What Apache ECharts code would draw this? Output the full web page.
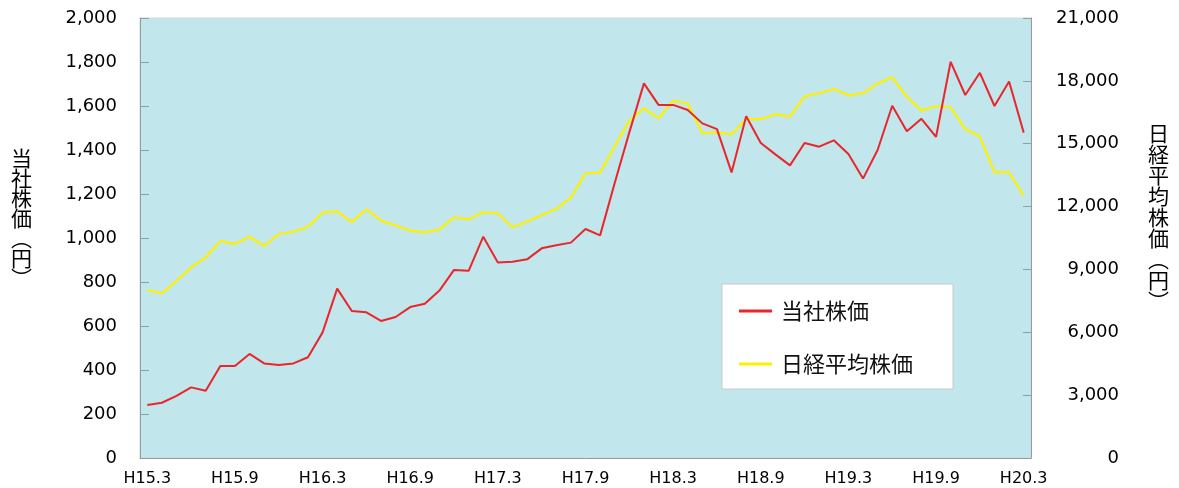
<!DOCTYPE html>
<html>
<head>
<meta charset="utf-8">
<script src="https://cdn.jsdelivr.net/npm/echarts@6/dist/echarts.min.js"></script>
<style>
  html, body { margin: 0; padding: 0; background: #fff; }
  #chart { width: 1179px; height: 488px; }
</style>
</head>
<body>
<div id="chart"></div>
<script>
// 月次 H15.3 〜 H20.3
const months = [
  'H15.3', 'H15.4', 'H15.5', 'H15.6', 'H15.7', 'H15.8', 'H15.9', 'H15.10', 'H15.11', 'H15.12',
  'H16.1', 'H16.2', 'H16.3', 'H16.4', 'H16.5', 'H16.6', 'H16.7', 'H16.8', 'H16.9', 'H16.10', 'H16.11', 'H16.12',
  'H17.1', 'H17.2', 'H17.3', 'H17.4', 'H17.5', 'H17.6', 'H17.7', 'H17.8', 'H17.9', 'H17.10', 'H17.11', 'H17.12',
  'H18.1', 'H18.2', 'H18.3', 'H18.4', 'H18.5', 'H18.6', 'H18.7', 'H18.8', 'H18.9', 'H18.10', 'H18.11', 'H18.12',
  'H19.1', 'H19.2', 'H19.3', 'H19.4', 'H19.5', 'H19.6', 'H19.7', 'H19.8', 'H19.9', 'H19.10', 'H19.11', 'H19.12',
  'H20.1', 'H20.2', 'H20.3'
]

// 当社株価（円）
const companyPrice = [
  241, 251, 282, 321, 306, 418, 418, 473, 430, 423,
  430, 458, 571, 770, 668, 662, 623, 641, 686, 701,
  761, 855, 851, 1006, 889, 892, 903, 953, 967, 979,
  1041, 1012, 1250, 1480, 1703, 1605, 1605, 1582, 1521, 1495,
  1298, 1553, 1432, 1380, 1330, 1432, 1415, 1444, 1382, 1270,
  1400, 1601, 1485, 1542, 1460, 1801, 1650, 1751, 1600, 1711,
  1479
]

// 日経平均株価（円）
const nikkeiPrice = [
  8020, 7860, 8460, 9100, 9580, 10360, 10210, 10560, 10120, 10690,
  10800, 11040, 11720, 11770, 11260, 11870, 11330, 11100, 10850, 10770,
  10900, 11490, 11390, 11730, 11680, 11010, 11280, 11600, 11880, 12430,
  13590, 13620, 14890, 16100, 16690, 16210, 17050, 16930, 15500, 15540,
  15450, 16170, 16170, 16410, 16290, 17260, 17410, 17610, 17310, 17410,
  17880, 18170, 17240, 16580, 16800, 16740, 15700, 15340, 13640, 13640,
  12520
]

const leftName = ['当', '社', '株', '価', '︵', '円', '︶']
const rightName = ['日', '経', '平', '均', '株', '価', '︵', '円', '︶']

const numFont = 'DejaVu Sans'
const jpFont = 'Noto Sans CJK JP'
const axisGray = '#8d9ea4'

const chart = echarts.init(document.getElementById('chart'))

const option = {
  animation: false,
  backgroundColor: '#ffffff',
  grid: {
    left: 140,
    right: 148,
    top: 18,
    bottom: 30,
    show: true,
    backgroundColor: '#c1e6eb',
    borderColor: '#d3d9db',
    borderWidth: 1
  },
  legend: {
    orient: 'vertical',
    left: 722,
    top: 284,
    padding: [16, 40, 14, 17],
    itemGap: 31,
    itemWidth: 33,
    itemHeight: 3,
    icon: 'rect',
    backgroundColor: '#ffffff',
    borderColor: '#c9c9c9',
    borderWidth: 1,
    textStyle: {
      fontFamily: jpFont,
      fontSize: 22,
      color: '#111',
      padding: [0, 0, 0, 4]
    },
    data: ['当社株価', '日経平均株価']
  },
  xAxis: {
    type: 'category',
    data: months,
    boundaryGap: true,
    axisLine: { lineStyle: { color: axisGray } },
    axisTick: { inside: true, length: 6, interval: 5, lineStyle: { color: axisGray } },
    axisLabel: {
      interval: 5,
      margin: 13,
      fontFamily: numFont,
      fontSize: 16,
      color: '#000'
    },
    splitLine: { show: false }
  },
  yAxis: [
    {
      type: 'value',
      min: 0,
      max: 2000,
      interval: 200,
      position: 'left',
      // 下に空行を足して名前を少し上に寄せる
      name: leftName.join('\n') + '\n \n ',
      nameLocation: 'middle',
      nameRotate: 0,
      nameGap: 108,
      nameTextStyle: {
        fontFamily: jpFont,
        fontSize: 21,
        lineHeight: 20,
        color: '#000'
      },
      axisLine: { show: true, lineStyle: { color: axisGray } },
      axisTick: { show: true, inside: true, length: 9, lineStyle: { color: axisGray } },
      axisLabel: {
        margin: 23,
        fontFamily: numFont,
        fontSize: 18,
        color: '#000',
        formatter: (v) => v.toLocaleString('en-US')
      },
      splitLine: { show: false }
    },
    {
      type: 'value',
      min: 0,
      max: 21000,
      interval: 3000,
      position: 'right',
      name: rightName.join('\n') + '\n \n ',
      nameLocation: 'middle',
      nameRotate: 0,
      nameGap: 117,
      nameTextStyle: {
        fontFamily: jpFont,
        fontSize: 21,
        lineHeight: 21,
        color: '#000'
      },
      axisLine: { show: true, lineStyle: { color: axisGray } },
      axisTick: { show: true, inside: true, length: 8, lineStyle: { color: axisGray } },
      axisLabel: {
        margin: 88,
        align: 'right',
        fontFamily: numFont,
        fontSize: 18,
        color: '#000',
        formatter: (v) => v.toLocaleString('en-US')
      },
      splitLine: { show: false }
    }
  ],
  series: [
    {
      name: '当社株価',
      type: 'line',
      yAxisIndex: 0,
      data: companyPrice,
      symbol: 'none',
      color: '#e8262b',
      lineStyle: { width: 2, color: '#e8262b' },
      z: 3
    },
    {
      name: '日経平均株価',
      type: 'line',
      yAxisIndex: 1,
      data: nikkeiPrice,
      symbol: 'none',
      color: '#fff000',
      lineStyle: { width: 2.2, color: '#fff000' },
      z: 2
    }
  ]
}

chart.setOption(option)
</script>
</body>
</html>
